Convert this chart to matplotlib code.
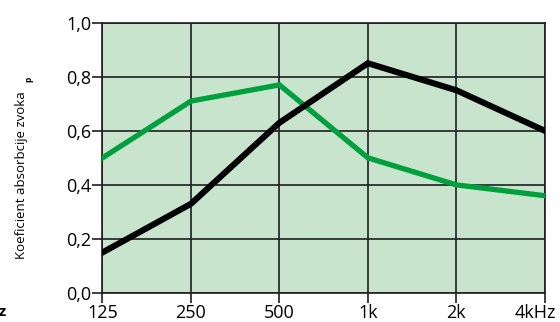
import matplotlib.pyplot as plt
import matplotlib.transforms as mtransforms

plt.rcParams['font.family'] = ['Open Sans', 'DejaVu Sans']

# Frequency bands and absorption values
freq_labels = ["125", "250", "500", "1k", "2k", "4kHz"]
green_vals = [0.50, 0.71, 0.77, 0.50, 0.40, 0.36]
black_vals = [0.15, 0.33, 0.63, 0.85, 0.75, 0.60]
y_ticks = [0.0, 0.2, 0.4, 0.6, 0.8, 1.0]
y_labels = ["0,0", "0,2", "0,4", "0,6", "0,8", "1,0"]

fig = plt.figure(figsize=(5.6, 3.22), dpi=100)
ax = fig.add_axes([0.183, 0.090, 0.790, 0.8395])
ax.set_facecolor("#c9e4cd")

x = list(range(len(freq_labels)))
ax.plot(x, green_vals, color="#00a03e", linewidth=3.8, solid_joinstyle="miter", zorder=3)
ax.plot(x, black_vals, color="black", linewidth=4.4, solid_joinstyle="miter", zorder=4)

ax.set_xlim(0, len(freq_labels) - 1)
ax.set_ylim(0, 1.0)
ax.set_xticks(x)
ax.set_xticklabels(freq_labels)
ax.set_yticks(y_ticks)
ax.set_yticklabels(y_labels)
ax.grid(True, color="#1e1e1e", linewidth=1.2, zorder=1)
ax.set_axisbelow(True)
for s in ax.spines.values():
    s.set_color("#1e1e1e")
    s.set_linewidth(1.2)
ax.tick_params(axis="both", length=7, width=1.2, color="#1e1e1e",
               labelsize=13, pad=1)

# last label sits a bit left of its tick so it stays inside the figure
last = ax.get_xticklabels()[-1]
last.set_transform(last.get_transform() +
                   mtransforms.ScaledTranslation(-10 / 100, 0, fig.dpi_scale_trans))

fig.text(0.038, 0.457, "Koeficient absorbcije zvoka", rotation=90,
         ha="center", va="center", fontsize=9.5)
fig.text(0.052, 0.755, "p", rotation=90, ha="center", va="center",
         fontsize=6, fontweight="bold")
fig.text(0.013, 0.03, "Hz", ha="right", va="center", fontsize=11,
         fontweight="bold")

plt.savefig("out.png")
